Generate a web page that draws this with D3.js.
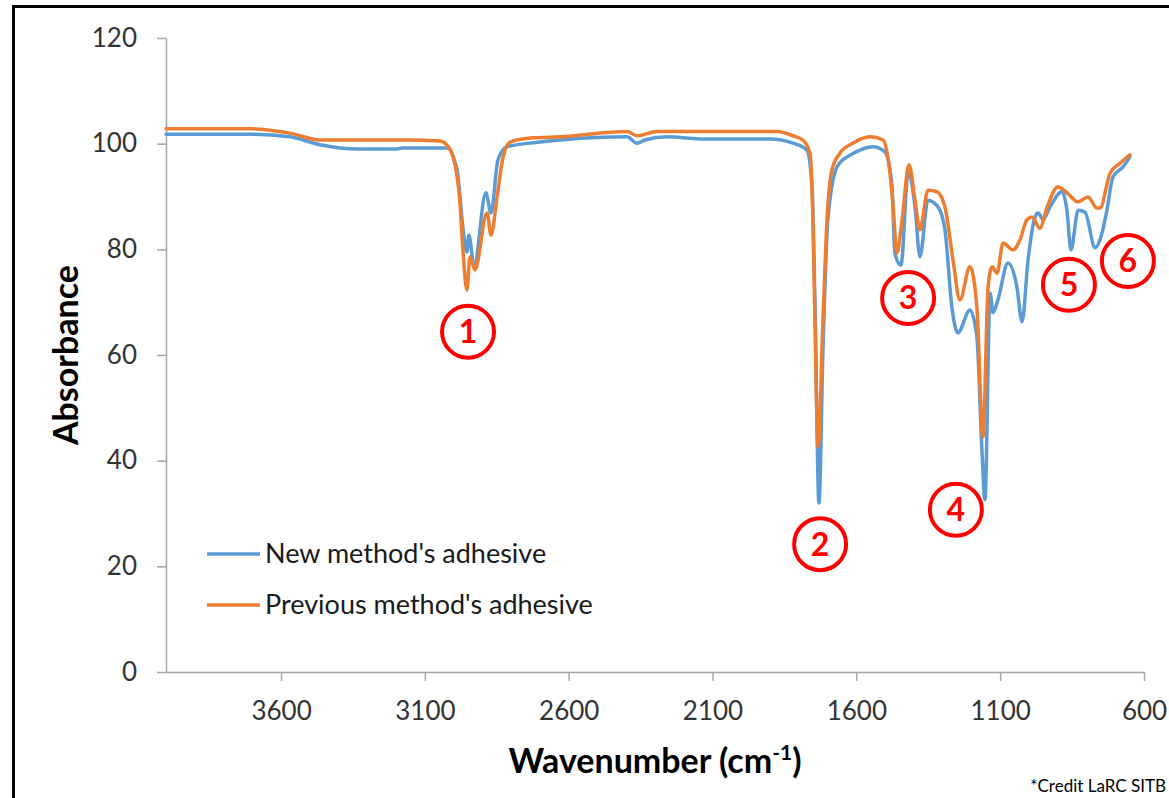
<!DOCTYPE html>
<html>
<head>
<meta charset="utf-8">
<script src="https://cdn.jsdelivr.net/npm/d3@7"></script>
<style>
  body { margin: 0; background: #fff; }
  svg { display: block; font-family: Lato, "Open Sans", sans-serif; }
</style>
</head>
<body>
<svg id="chart" width="1169" height="798"></svg>
<script>
// spectra (wavenumber cm-1, absorbance)
const newWn = [4000, 3698, 3569, 3465, 3336, 3197, 3176, 3023, 2988, 2967, 2954, 2947, 2929, 2888, 2870, 2846, 2815, 2735, 2630, 2397, 2363, 2335, 2258, 2144, 1900, 1820, 1772, 1754, 1744, 1730, 1716, 1699, 1667, 1626, 1587, 1542, 1500, 1483, 1476, 1466, 1445, 1420, 1396, 1379, 1351, 1316, 1292, 1268, 1247, 1205, 1181, 1163, 1153, 1135, 1125, 1108, 1073, 1042, 1024, 1003, 979, 968, 951, 927, 885, 868, 854, 829, 805, 770, 746, 729, 708, 673, 649];
const newAbs = [101.8, 101.8, 101.3, 99.8, 99.0, 99.0, 99.2, 99.2, 95.0, 83.7, 79.5, 82.7, 76.7, 90.7, 86.9, 96.9, 99.4, 100.1, 100.7, 101.3, 100.1, 100.7, 101.3, 100.9, 100.9, 100.1, 98.8, 91.8, 70.4, 32.0, 61.0, 85.6, 95.6, 97.7, 98.8, 99.4, 98.4, 95.0, 91.8, 79.3, 77.0, 94.4, 88.0, 78.6, 89.3, 88.0, 83.7, 69.1, 64.2, 68.5, 63.4, 41.5, 32.6, 71.7, 68.0, 70.4, 77.4, 72.9, 66.3, 78.0, 86.1, 86.9, 85.6, 88.0, 90.9, 87.4, 79.9, 87.4, 87.0, 80.3, 83.1, 87.4, 93.7, 95.6, 97.5];

const prevWn = [4000, 3698, 3569, 3465, 3162, 3047, 3023, 3002, 2978, 2967, 2954, 2943, 2926, 2884, 2870, 2849, 2828, 2804, 2724, 2630, 2397, 2363, 2293, 1876, 1820, 1786, 1761, 1751, 1744, 1733, 1716, 1702, 1685, 1657, 1612, 1553, 1507, 1490, 1473, 1459, 1441, 1417, 1396, 1379, 1351, 1320, 1292, 1264, 1240, 1205, 1181, 1160, 1142, 1128, 1111, 1090, 1055, 1031, 1007, 989, 962, 937, 899, 868, 829, 795, 763, 753, 718, 683, 649];
const prevAbs = [102.8, 102.8, 102.0, 100.7, 100.7, 100.5, 99.7, 97.5, 88.8, 79.3, 72.3, 78.6, 76.1, 86.9, 82.7, 89.9, 97.5, 100.3, 101.1, 101.3, 102.3, 101.5, 102.3, 102.3, 101.5, 100.7, 98.2, 85.6, 66.6, 42.6, 66.6, 85.6, 95.0, 98.2, 100.1, 101.3, 100.7, 97.3, 88.8, 79.3, 85.6, 96.0, 89.3, 83.7, 91.2, 90.9, 88.0, 78.0, 70.4, 76.7, 69.1, 44.5, 72.9, 76.7, 75.5, 81.2, 79.9, 81.8, 85.6, 86.1, 84.0, 88.0, 91.8, 90.7, 89.0, 89.9, 87.8, 87.8, 94.4, 96.3, 97.9];

const seriesNames = ["New method's adhesive", "Previous method's adhesive"];
const seriesColors = ["#5b9bd5", "#ed7d31"];

const xTicks = [3600, 3100, 2600, 2100, 1600, 1100, 600];
const yTicks = [0, 20, 40, 60, 80, 100, 120];

// numbered peak markers
const markLabels = ["1", "2", "3", "4", "5", "6"];
const markWn = [2950, 1726, 1420, 1254, 861, 656];
const markAbs = [64.4, 24.2, 70.8, 30.7, 73.3, 77.8];

const svg = d3.select('#chart');

// outer frame
svg.append('rect')
  .attr('x', 13.5).attr('y', 6.5)
  .attr('width', 1170).attr('height', 800)
  .attr('fill', 'none')
  .attr('stroke', '#000')
  .attr('stroke-width', 3);

const x = d3.scaleLinear().domain([4000, 600]).range([166, 1144]);
const y = d3.scaleLinear().domain([0, 120]).range([672, 38]);

// y axis
const yAxis = svg.append('g')
  .attr('transform', 'translate(166,0)')
  .call(d3.axisLeft(y).tickValues(yTicks).tickSize(9).tickSizeOuter(0).tickPadding(20));

// x axis
const xAxis = svg.append('g')
  .attr('transform', 'translate(0,672)')
  .call(d3.axisBottom(x).tickValues(xTicks).tickFormat(d3.format('d'))
    .tickSize(9).tickSizeOuter(0).tickPadding(21));

[yAxis, xAxis].forEach(g => {
  g.select('.domain').attr('stroke', '#a6a6a6').attr('stroke-width', 1.5);
  g.selectAll('.tick line').attr('stroke', '#a6a6a6').attr('stroke-width', 1.5);
  g.selectAll('.tick text')
    .attr('fill', '#333')
    .style('font-family', 'Lato, sans-serif')
    .style('font-size', '26px');
});

// spectra
const line = d3.line()
  .x(d => x(d[0]))
  .y(d => y(d[1]))
  .curve(d3.curveMonotoneX);

const series = [
  d3.zip(newWn, newAbs),
  d3.zip(prevWn, prevAbs)
];

series.forEach((pts, i) => {
  svg.append('path')
    .datum(pts.slice().sort((a, b) => a[0] - b[0]))
    .attr('d', line)
    .attr('fill', 'none')
    .attr('stroke', seriesColors[i])
    .attr('stroke-width', 3.5)
    .attr('stroke-linejoin', 'round')
    .attr('stroke-linecap', 'round');
});

// legend
const legend = svg.append('g');
seriesNames.forEach((name, i) => {
  const ly = 554 + i * 51;
  legend.append('line')
    .attr('x1', 207).attr('x2', 260)
    .attr('y1', ly).attr('y2', ly)
    .attr('stroke', seriesColors[i])
    .attr('stroke-width', 3.5);
  legend.append('text')
    .attr('x', 265).attr('y', ly + 9)
    .attr('fill', '#1a1a1a')
    .style('font-size', '27px')
    .text(name);
});

// axis titles
svg.append('text')
  .attr('transform', 'translate(78,355) rotate(-90)')
  .attr('text-anchor', 'middle')
  .style('font-size', '34px')
  .style('font-weight', 'bold')
  .attr('fill', '#000')
  .text('Absorbance');

const xt = svg.append('text')
  .attr('x', 655).attr('y', 773)
  .attr('text-anchor', 'middle')
  .style('font-size', '34px')
  .style('font-weight', 'bold')
  .attr('fill', '#000');
xt.append('tspan').text('Wavenumber (cm');
xt.append('tspan').attr('dy', -13).style('font-size', '21px').text('-1');
xt.append('tspan').attr('dy', 13).text(')');

// peak markers
const marks = svg.append('g');
markLabels.forEach((lab, i) => {
  const cx = x(markWn[i]), cy = y(markAbs[i]);
  marks.append('circle')
    .attr('cx', cx).attr('cy', cy).attr('r', 26)
    .attr('fill', '#fff')
    .attr('stroke', '#ff0000')
    .attr('stroke-width', 4);
  marks.append('text')
    .attr('x', cx).attr('y', cy)
    .attr('dy', '0.36em')
    .attr('text-anchor', 'middle')
    .attr('fill', '#ff0000')
    .style('font-size', '32px')
    .style('font-weight', 'bold')
    .text(lab);
});

// credit
svg.append('text')
  .attr('x', 1166).attr('y', 792)
  .attr('text-anchor', 'end')
  .attr('fill', '#000')
  .style('font-size', '17px')
  .text('*Credit LaRC SITB');
</script>
</body>
</html>
